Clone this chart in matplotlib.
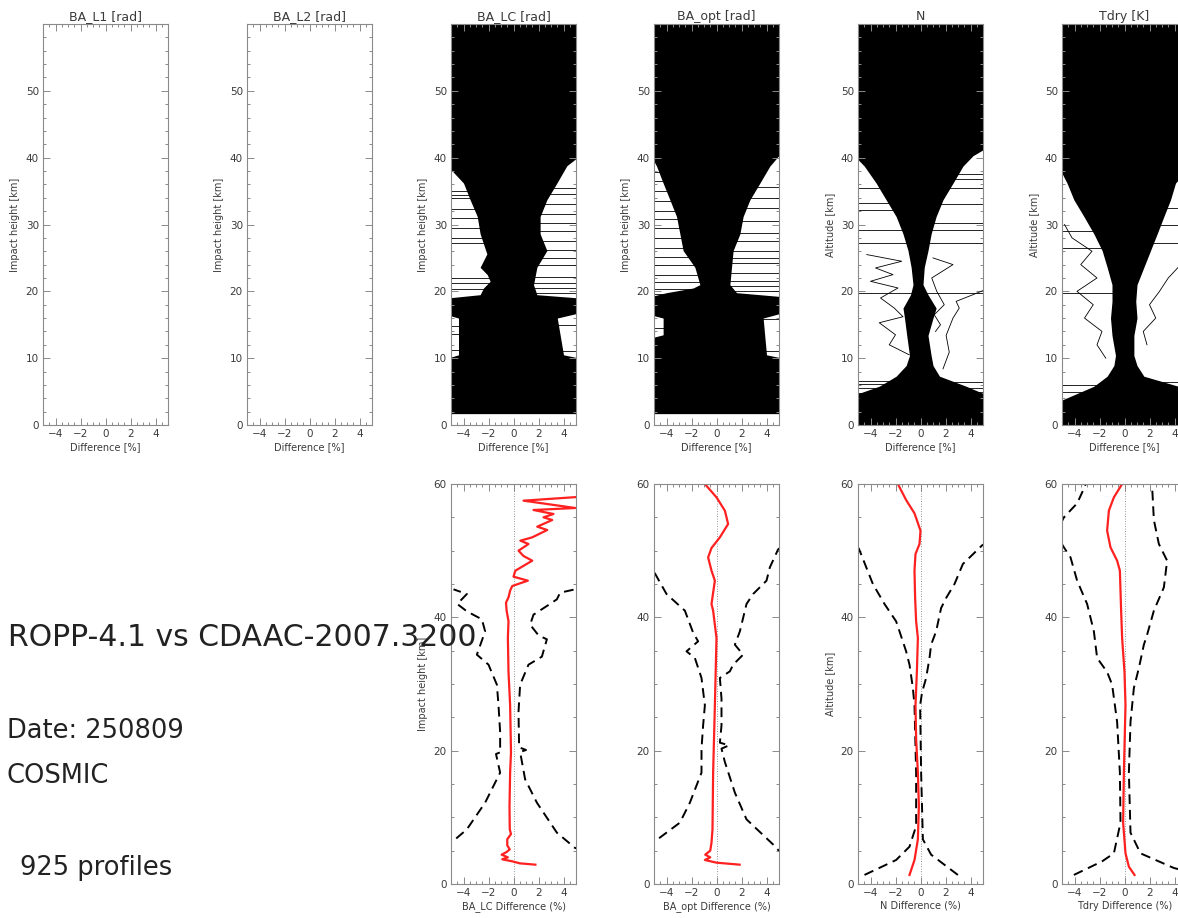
import matplotlib
matplotlib.use("Agg")
import matplotlib.pyplot as plt
from matplotlib.ticker import MultipleLocator, FixedLocator

plt.rcParams['font.family'] = ['DejaVu Sans']

# ---------------- DATA ----------------
top_titles = ["BA_L1 [rad]", "BA_L2 [rad]", "BA_LC [rad]", "BA_opt [rad]", "N", "Tdry [K]"]
top_ylabels = ["Impact height [km]"] * 4 + ["Altitude [km]"] * 2
bottom_xlabels = ["BA_LC Difference (%)", "BA_opt Difference (%)", "N Difference (%)", "Tdry Difference (%)"]
bottom_ylabels = ["Impact height [km]", "", "Altitude [km]", ""]

# envelopes of the dense profile bundles (top row), per panel: left / right edge vs height
lc_env_l_h = [1.7, 10, 10.5, 16, 16.5, 19.0, 19.5, 20.5, 21.5, 22.5, 23.6, 25.6, 28.6, 31.2, 33.7, 36.2, 38.8, 60]
lc_env_l_x = [-5.3, -5.3, -4.4, -4.4, -5.3, -5.3, -2.67, -2.4, -1.87, -2.1, -2.67, -2.13, -2.67, -2.9, -3.47, -4.0, -5.3, -5.3]
lc_env_r_h = [1.7, 10, 10.5, 16, 16.8, 19.0, 19.5, 21, 23.6, 26.1, 28.6, 31.2, 33.7, 36.2, 38.8, 40.3, 60]
lc_env_r_x = [5.3, 5.3, 4.0, 3.5, 5.3, 5.3, 1.87, 1.6, 1.87, 2.67, 2.13, 2.13, 2.67, 3.47, 4.27, 5.3, 5.3]
lc_streak_l = [20.3, 21.2, 22.0, 27.2, 28.0, 29.5, 31.0, 32.3, 34.0, 34.4, 35.0, 11.2, 13.6, 14.8]
lc_streak_r = [19.8, 20.5, 21.2, 22.2, 24.0, 25.0, 26.2, 27.5, 29.0, 30.2, 31.5, 33.0, 34.5, 35.5, 11.0, 15.0]

opt_env_l_h = [1.7, 13, 13.5, 16, 16.5, 19.2, 19.8, 20.5, 21, 23.6, 26.1, 28.6, 31.2, 33.7, 36.2, 38.75, 40.5, 60]
opt_env_l_x = [-5.3, -5.3, -4.27, -4.27, -5.3, -5.3, -4.0, -1.87, -1.33, -1.73, -2.67, -2.93, -3.2, -3.73, -4.27, -4.8, -5.3, -5.3]
opt_env_r_h = [1.7, 10, 10.5, 16, 16.8, 19.2, 19.8, 21, 23.6, 26.1, 28.6, 31.2, 33.7, 36.2, 38.75, 41, 60]
opt_env_r_x = [5.3, 5.3, 4.0, 3.73, 5.3, 5.3, 1.6, 1.07, 1.2, 1.33, 1.87, 2.13, 2.67, 3.47, 4.27, 5.3, 5.3]
opt_streak_l = [19.6, 20.4, 21.4, 22.5, 24.0, 25.2, 26.5, 28.0, 29.5, 30.8, 32.0, 33.5, 35.0, 36.5, 37.8, 14.5]
opt_streak_r = [20.0, 20.8, 21.6, 22.8, 24.2, 25.0, 26.0, 27.5, 28.8, 30.5, 32.5, 34.0, 35.6, 11.0, 15.8]

n_env_h = [0, 4.5, 5.8, 7.3, 8.9, 10.4, 13.4, 16, 17.5, 19.5, 21, 23.6, 26.1, 28.6, 31.2, 33.7, 36.2, 38.75, 40.3, 41.5, 60]
n_env_l = [-5.3, -5.3, -3.3, -1.95, -1.15, -0.88, -1.1, -1.28, -1.4, -0.8, -0.6, -0.75, -1.0, -1.4, -1.95, -2.75, -3.55, -4.5, -5.3, -5.3, -5.3]
n_env_r = [5.3, 5.3, 3.65, 1.52, 1.0, 0.85, 0.6, 1.0, 1.25, 0.6, 0.2, 0.3, 0.6, 0.85, 1.25, 1.8, 2.6, 3.4, 4.2, 5.3, 5.3]
n_streak_l = [4.0, 4.8, 5.5, 6.2, 6.6, 19.8, 27.2, 29.2, 32.2, 33.2, 35.5]
n_streak_r = [4.2, 5.0, 5.6, 6.5, 19.8, 27.2, 29.2, 30.2, 33.0, 35.5, 36.8, 37.5]
n_out1_h = [8.4, 10.9, 13.4, 16.0, 17.5, 18.5, 19.5, 20.5]
n_out1_x = [1.8, 2.3, 2.05, 2.6, 3.1, 2.85, 4.2, 5.5]
n_out2_h = [10.5, 12.0, 13.5, 15.3, 16.2, 17.5, 19.0, 20.5, 21.5, 22.5, 23.5, 24.5, 25.5]
n_out2_x = [-0.9, -2.5, -2.0, -3.3, -1.4, -2.1, -3.2, -1.8, -4.0, -2.2, -3.6, -1.5, -4.3]
n_out3_h = [14.0, 15.0, 16.5, 18.0, 20.0, 22.0, 24.0, 25.0]
n_out3_x = [1.2, 1.6, 1.1, 1.9, 1.3, 0.9, 2.6, 1.0]

t_env_h = [0, 3.5, 5.8, 7.3, 8.9, 10.4, 13.4, 16, 18.5, 21, 23.6, 26.1, 28.6, 31.2, 33.7, 36.2, 38.75, 60]
t_env_l = [-5.3, -5.3, -2.45, -1.39, -0.85, -0.72, -1.0, -1.12, -1.0, -1.0, -1.39, -1.79, -2.45, -3.25, -4.05, -4.6, -5.3, -5.3]
t_env_r = [5.3, 5.3, 4.3, 1.55, 1.0, 0.75, 0.75, 1.0, 0.9, 1.0, 1.55, 2.08, 2.61, 3.15, 3.68, 4.08, 5.3, 5.3]
t_streak_l = [2.5, 5.0, 6.0, 19.8, 26.5, 29.0]
t_streak_r = [6.5, 27.2, 30.0, 32.5]
t_out1_h = [10, 12, 14, 16, 18, 20, 22, 24, 26, 28, 30]
t_out1_x = [-1.5, -2.2, -1.8, -3.2, -2.5, -3.8, -2.2, -3.5, -2.6, -4.2, -4.8]
t_out2_h = [12, 14, 16, 18, 20, 22, 24, 26]
t_out2_x = [1.8, 1.5, 2.5, 2.0, 2.8, 3.5, 4.5, 5.5]

# bottom row: mean difference (red) and +/- std (dashed)
lc_mean_h = [2.9, 3.1, 3.4, 3.7, 4.0, 4.4, 4.8, 5.2, 5.8, 6.7, 7.5, 8.2, 11.7, 16.7, 19.8, 26.8, 31.8, 36.9, 39.4, 41.0,
             42.2, 43.0, 44.0, 44.7, 45.5, 46.1, 47.0, 48.5, 49.2, 50.0, 51.0, 51.5, 52.0, 53.1, 53.6, 54.6, 55.0, 55.5,
             56.1, 56.4, 57.5, 58.1]
lc_mean_x = [1.75, 0.5, -0.1, -0.9, -0.45, -0.95, -0.55, -0.3, -0.5, -0.5, -0.2, -0.3, -0.32, -0.27, -0.2, -0.27, -0.4,
             -0.45, -0.4, -0.55, -0.6, -0.4, -0.27, -0.1, 1.15, 0.0, 0.15, 1.5, 0.8, 0.4, 1.2, 0.55, 1.5, 2.7, 1.9, 3.1,
             2.4, 3.2, 1.6, 4.95, 0.8, 5.5]
lc_sdl_h = [5.5, 6.4, 8.2, 12.2, 16.7, 19.5, 19.8, 20.2, 22.8, 26.8, 29.9, 32.9, 34.4, 37.9, 39.7, 40.9, 42.0, 43.5, 44.2]
lc_sdl_x = [-5.6, -4.85, -3.73, -2.27, -1.07, -1.4, -1.0, -1.07, -1.07, -1.2, -1.33, -2.0, -2.93, -2.27, -2.53, -3.73,
            -4.5, -3.73, -4.8]
lc_sdr_h = [5.2, 5.4, 7.7, 12.2, 15.7, 19.8, 20.1, 20.5, 25.8, 29.9, 32.9, 34.1, 36.7, 37.3, 38.9, 40.4, 41.7, 42.7, 43.7, 44.2]
lc_sdr_x = [5.6, 4.93, 3.47, 1.87, 0.93, 0.53, 1.0, 0.45, 0.4, 0.53, 1.2, 2.27, 2.67, 2.0, 1.33, 1.6, 2.67, 3.47, 3.73, 4.93]

opt_mean_h = [2.9, 3.2, 3.6, 4.0, 4.4, 5.0, 6.2, 8.2, 16.7, 26.8, 36.9, 41, 42, 45.5, 47, 49, 50.4, 52, 54, 56, 58, 60]
opt_mean_x = [1.85, 0.0, -0.93, -0.5, -0.9, -0.5, -0.4, -0.32, -0.27, -0.13, 0.0, -0.27, -0.4, -0.13, -0.4, -0.67, -0.4,
              0.27, 0.93, 0.67, 0.0, -0.93]
opt_sdl_h = [5.5, 6.4, 9.2, 12.2, 16.7, 20.3, 23.8, 26.8, 30.9, 33.9, 34.9, 36.4, 37.7, 41, 43.5, 46.6, 47.5]
opt_sdl_x = [-5.6, -4.93, -2.93, -2.13, -1.2, -1.2, -1.07, -0.93, -1.2, -1.73, -2.4, -1.47, -1.87, -2.53, -4.0, -4.93, -5.6]
opt_sdr_h = [4.8, 5.1, 5.8, 9.7, 13.7, 18.3, 20.3, 20.8, 21.2, 23.8, 27.8, 30.9, 31.9, 32.9, 34.4, 35.9, 37.9, 42, 43.5,
             45.5, 47.5, 50.2, 51]
opt_sdr_x = [5.6, 4.93, 4.6, 2.4, 1.47, 0.67, 0.4, 1.0, 0.27, 0.4, 0.4, 0.27, 1.07, 1.33, 2.13, 1.47, 1.87, 2.4, 2.93, 4.0,
             4.27, 4.93, 5.6]

n_mean_h = [1.36, 3.6, 6.7, 11.7, 16.7, 21.8, 26.8, 31.8, 36.9, 39.4, 42.9, 47, 49.5, 51, 53, 55.6, 57.6, 60]
n_mean_x = [-0.88, -0.48, -0.21, -0.13, -0.21, -0.35, -0.4, -0.29, -0.21, -0.35, -0.43, -0.48, -0.4, -0.08, 0.0, -0.48,
            -1.15, -1.81]
n_sdl_h = [1.36, 3.6, 5.6, 8.7, 16.7, 26.8, 29.4, 32.9, 34.9, 37.9, 39.4, 42, 45, 50.3, 51]
n_sdl_x = [-4.48, -1.95, -0.88, -0.35, -0.35, -0.48, -0.61, -0.88, -1.15, -1.68, -1.95, -2.88, -3.81, -4.93, -5.3]
n_sdr_h = [1.36, 4.4, 6.7, 16.7, 26.8, 28.8, 30.9, 33.9, 35.9, 37.9, 41.4, 42.9, 45, 48, 50.8, 51.2]
n_sdr_x = [2.99, 0.85, 0.19, 0.05, -0.03, 0.13, 0.45, 0.72, 0.85, 1.25, 1.65, 2.05, 2.72, 3.39, 4.93, 5.3]

t_mean_h = [1.36, 2.6, 4.6, 9.2, 16.7, 26.8, 31.8, 36.9, 41, 47, 48.5, 50.5, 53, 56, 58, 60]
t_mean_x = [0.8, 0.35, 0.08, -0.11, -0.05, 0.08, 0.0, -0.19, -0.27, -0.37, -0.59, -1.12, -1.39, -1.25, -0.85, -0.19]
t_sdl_h = [1.36, 3.4, 4.6, 9.2, 16.7, 24.3, 29.9, 31.8, 33.9, 37.9, 42, 45.5, 49, 50.5, 52.5, 55, 57.1, 59.3, 60]
t_sdl_x = [-4.05, -1.79, -0.85, -0.32, -0.37, -0.59, -0.99, -1.39, -2.19, -2.45, -2.99, -3.79, -4.32, -4.85, -5.5, -4.85,
           -3.79, -3.25, -3.1]
t_sdr_h = [1.6, 2.4, 4.6, 7.7, 16.7, 24.3, 29.4, 32.4, 35.9, 37.4, 41, 44.5, 48.5, 51, 54.6, 59.6]
t_sdr_x = [5.6, 3.95, 1.28, 0.48, 0.35, 0.48, 0.75, 1.15, 1.55, 1.81, 2.35, 3.15, 3.41, 2.75, 2.35, 2.21]

title_main = "ROPP-4.1 vs CDAAC-2007.3200"
date_text = "Date: 250809"
mission_text = "COSMIC"
nprof_text = "925 profiles"

# ---------------- FIGURE ----------------
W, H = 1178, 918
fig = plt.figure(figsize=(W / 100, H / 100), dpi=100)

AX_COL = '#8a8a8a'
LBL_COL = '#3a3a3a'

def px_axes(x0, ytop, w, h):
    return fig.add_axes([x0 / W, 1 - (ytop + h) / H, w / W, h / H])

def style(ax, ymajor, yminor, ylim):
    ax.set_xlim(-5, 5)
    ax.set_ylim(*ylim)
    ax.xaxis.set_major_locator(FixedLocator([-4, -2, 0, 2, 4]))
    ax.xaxis.set_minor_locator(MultipleLocator(0.5))
    ax.yaxis.set_major_locator(FixedLocator(ymajor))
    ax.yaxis.set_minor_locator(MultipleLocator(yminor))
    ax.tick_params(which='both', direction='in', top=True, right=True, color=AX_COL,
                   labelcolor=LBL_COL, labelsize=7.5, width=0.7, pad=3)
    ax.tick_params(which='major', length=5)
    ax.tick_params(which='minor', length=2.5)
    for s in ax.spines.values():
        s.set_color(AX_COL)
        s.set_linewidth(0.8)

lefts = [43, 247, 451, 654, 858, 1062]
PW = 125

top_axes = []
for i in range(6):
    ax = px_axes(lefts[i], 24, PW, 401)
    style(ax, [0, 10, 20, 30, 40, 50], 2, (0, 60))
    ax.set_title(top_titles[i], fontsize=9, color=LBL_COL, pad=3)
    ax.set_xlabel("Difference [%]", fontsize=7, color=LBL_COL, labelpad=2)
    ax.set_ylabel(top_ylabels[i], fontsize=7, color=LBL_COL, labelpad=4)
    top_axes.append(ax)

def bundle(ax, hl, xl, hr, xr, sl, sr):
    ax.fill_betweenx(hl, xl, 0, color='black', lw=0)
    ax.fill_betweenx(hr, 0, xr, color='black', lw=0)
    ax.hlines(sl, -6, 0, color='black', lw=0.6)
    ax.hlines(sr, 0, 6, color='black', lw=0.6)

bundle(top_axes[2], lc_env_l_h, lc_env_l_x, lc_env_r_h, lc_env_r_x, lc_streak_l, lc_streak_r)
bundle(top_axes[3], opt_env_l_h, opt_env_l_x, opt_env_r_h, opt_env_r_x, opt_streak_l, opt_streak_r)
bundle(top_axes[4], n_env_h, n_env_l, n_env_h, n_env_r, n_streak_l, n_streak_r)
top_axes[4].plot(n_out1_x, n_out1_h, color='black', lw=0.6)
top_axes[4].plot(n_out2_x, n_out2_h, color='black', lw=0.6)
top_axes[4].plot(n_out3_x, n_out3_h, color='black', lw=0.6)
bundle(top_axes[5], t_env_h, t_env_l, t_env_h, t_env_r, t_streak_l, t_streak_r)
top_axes[5].plot(t_out1_x, t_out1_h, color='black', lw=0.6)
top_axes[5].plot(t_out2_x, t_out2_h, color='black', lw=0.6)

bottom_data = [
    (lc_mean_h, lc_mean_x, lc_sdl_h, lc_sdl_x, lc_sdr_h, lc_sdr_x),
    (opt_mean_h, opt_mean_x, opt_sdl_h, opt_sdl_x, opt_sdr_h, opt_sdr_x),
    (n_mean_h, n_mean_x, n_sdl_h, n_sdl_x, n_sdr_h, n_sdr_x),
    (t_mean_h, t_mean_x, t_sdl_h, t_sdl_x, t_sdr_h, t_sdr_x),
]
for j in range(4):
    ax = px_axes(lefts[j + 2], 484, PW, 400)
    style(ax, [0, 20, 40, 60], 5, (0, 60))
    ax.set_xlabel(bottom_xlabels[j], fontsize=7, color=LBL_COL, labelpad=2)
    if bottom_ylabels[j]:
        ax.set_ylabel(bottom_ylabels[j], fontsize=7, color=LBL_COL, labelpad=4)
    mh, mx, lh, lx, rh, rx = bottom_data[j]
    ax.axvline(0, color='#777777', lw=0.6, ls=(0, (1, 2)))
    ax.plot(lx, lh, color='black', lw=1.4, ls=(0, (5, 3)))
    ax.plot(rx, rh, color='black', lw=1.4, ls=(0, (5, 3)))
    ax.plot(mx, mh, color='#ff2020', lw=1.6)

TXT = '#222222'
fig.text(8 / W, 1 - 637 / H, title_main, fontsize=21.5, color=TXT, va='center', ha='left', zorder=10)
fig.text(7 / W, 1 - 731 / H, date_text, fontsize=18.5, color=TXT, va='center', ha='left', zorder=10)
fig.text(7 / W, 1 - 776 / H, mission_text, fontsize=18.5, color=TXT, va='center', ha='left', zorder=10)
fig.text(20 / W, 1 - 868 / H, nprof_text, fontsize=18.5, color=TXT, va='center', ha='left', zorder=10)

fig.savefig("out.png", dpi=100)
